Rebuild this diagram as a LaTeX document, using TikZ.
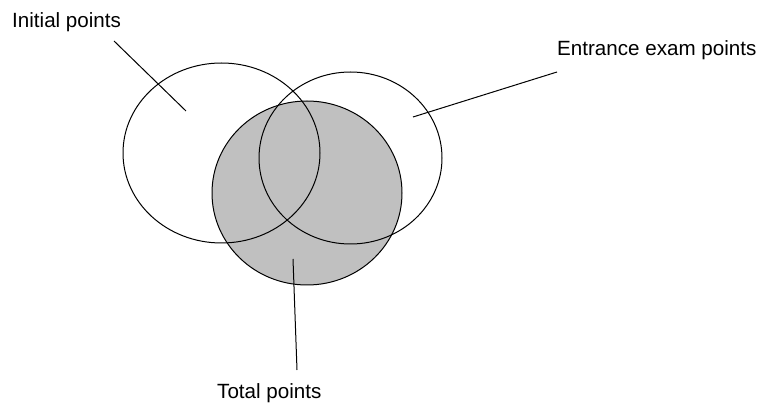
\documentclass[tikz,border=0pt]{standalone}
\usepackage{fontspec}
\setmainfont{Liberation Sans}
\usetikzlibrary{shapes.geometric}
\definecolor{totalgrey}{HTML}{C0C0C0}
\tikzset{
  set/.style={draw, ellipse, line width=1pt, inner sep=0pt},
  lbl/.style={font=\fontsize{20.6}{24}\selectfont, inner sep=0pt, anchor=base west},
  lead/.style={line width=1pt}}

\begin{document}
\begin{tikzpicture}[x=1pt, y=-1pt]
  \useasboundingbox (0,0) rectangle (766,403);
  % shaded set first, outlines of the other two on top
  \node[set, fill=totalgrey, minimum width=190pt, minimum height=184pt] (total) at (307,193) {};
  \node[set, minimum width=197pt, minimum height=180pt] (initial) at (221.5,153) {};
  \node[set, minimum width=183pt, minimum height=172pt] (entrance) at (350.5,158) {};
  % labels
  \node[lbl] (initial-lbl) at (12,28) {Initial points};
  \node[lbl] (entrance-lbl) at (557,56) {Entrance exam points};
  \node[lbl] (total-lbl) at (217,398) {Total points};
  % leader lines
  \coordinate (initial-from) at (114,41);
  \coordinate (initial-to) at (186,111);
  \coordinate (entrance-from) at (557,72);
  \coordinate (entrance-to) at (413,117);
  \coordinate (total-from) at (297,370);
  \coordinate (total-to) at (293,259);
  \draw[lead] (initial-from) -- (initial-to);
  \draw[lead] (entrance-from) -- (entrance-to);
  \draw[lead] (total-from) -- (total-to);
\end{tikzpicture}
\end{document}
